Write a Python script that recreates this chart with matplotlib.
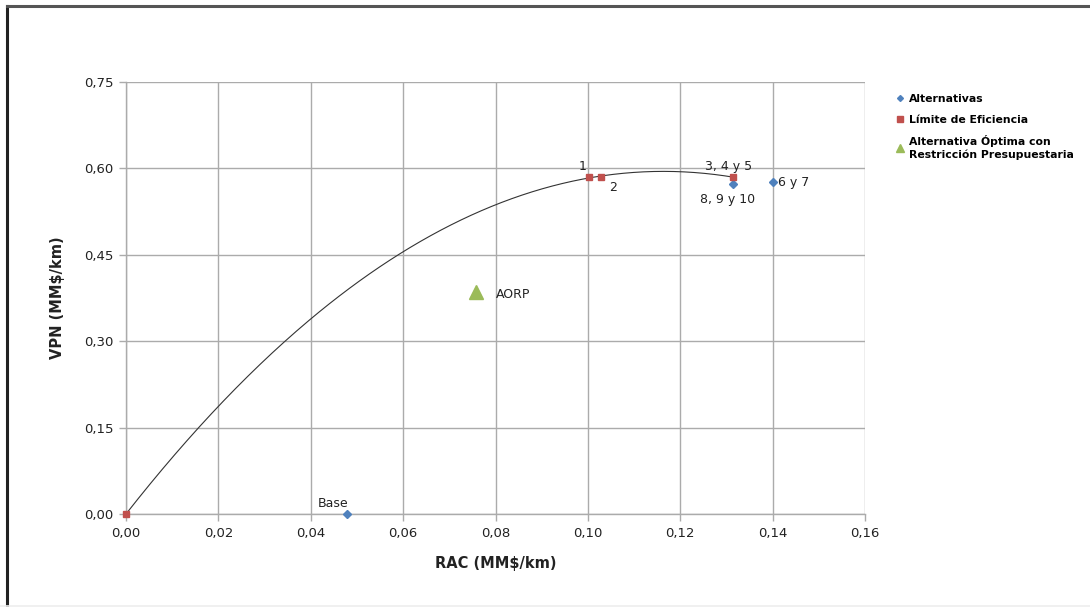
import numpy as np
import matplotlib
matplotlib.use("Agg")
import matplotlib.pyplot as plt
from matplotlib.lines import Line2D

# Alternatives (RAC, VPN) in MM$/km
alt_rac = [0.0478, 0.1314, 0.1400]
alt_vpn = [0.000, 0.573, 0.576]
alt_labels = ["Base", "8, 9 y 10", "6 y 7"]

# Efficiency frontier
lim_rac = [0.0, 0.1002, 0.1028, 0.1314]
lim_vpn = [0.0, 0.585, 0.585, 0.585]
lim_labels = ["", "1", "2", "3, 4 y 5"]

# Optimal alternative under budget restriction
aorp_rac = [0.0758]
aorp_vpn = [0.385]

x_ticks = [0.00, 0.02, 0.04, 0.06, 0.08, 0.10, 0.12, 0.14, 0.16]
y_ticks = [0.00, 0.15, 0.30, 0.45, 0.60, 0.75]

BLUE = "#4F81BD"
RED = "#C0504D"
GREEN = "#9BBB59"
GRID = "#ABABAB"

plt.rcParams["font.family"] = ["DejaVu Sans"]

fig = plt.figure(figsize=(10.9, 6.07), dpi=100)
ax = fig.add_axes([126 / 1090, 1 - 514 / 607, 739 / 1090, 432 / 607])

# frame around the chart (top and left edges)
fig.add_artist(Line2D([6.5 / 1090, 6.5 / 1090], [0, 1 - 5.5 / 607],
                      transform=fig.transFigure, color="#222222", lw=2.2))
fig.add_artist(Line2D([6.5 / 1090, 1], [1 - 5.5 / 607, 1 - 5.5 / 607],
                      transform=fig.transFigure, color="#555555", lw=2.2))
fig.add_artist(Line2D([0, 1], [0.6 / 607, 0.6 / 607],
                      transform=fig.transFigure, color="#EEEEEE", lw=1.2))

# quadratic trendline over the frontier
coef = np.polyfit(lim_rac, lim_vpn, 2)
xs = np.linspace(min(lim_rac), max(lim_rac), 300)
ax.plot(xs, np.polyval(coef, xs), color="#333333", lw=0.8, zorder=2)

ax.plot(alt_rac, alt_vpn, ls="none", marker="D", ms=3.6, color=BLUE,
        zorder=4, clip_on=False)
ax.plot(lim_rac, lim_vpn, ls="none", marker="s", ms=5, color=RED,
        zorder=4, clip_on=False)
ax.plot(aorp_rac, aorp_vpn, ls="none", marker="^", ms=10, color=GREEN,
        zorder=4, clip_on=False)

fs = 9
ax.annotate(alt_labels[0], (alt_rac[0], alt_vpn[0]), xytext=(-21, 5),
            textcoords="offset points", fontsize=fs, color="#222222")
ax.annotate(alt_labels[1], (alt_rac[1], alt_vpn[1]), xytext=(-24, -14),
            textcoords="offset points", fontsize=fs, color="#222222")
ax.annotate(alt_labels[2], (alt_rac[2], alt_vpn[2]), xytext=(4, -3),
            textcoords="offset points", fontsize=fs, color="#222222")
ax.annotate(lim_labels[1], (lim_rac[1], lim_vpn[1]), xytext=(-7, 5),
            textcoords="offset points", fontsize=fs, color="#222222")
ax.annotate(lim_labels[2], (lim_rac[2], lim_vpn[2]), xytext=(6, -10),
            textcoords="offset points", fontsize=fs, color="#222222")
ax.annotate(lim_labels[3], (lim_rac[3], lim_vpn[3]), xytext=(-20, 5),
            textcoords="offset points", fontsize=fs, color="#222222")
ax.annotate("AORP", (aorp_rac[0], aorp_vpn[0]), xytext=(14, -4),
            textcoords="offset points", fontsize=fs, color="#222222")

ax.set_xlim(0, 0.16)
ax.set_ylim(0, 0.75)
ax.set_xticks(x_ticks)
ax.set_yticks(y_ticks)
ax.set_xticklabels([f"{v:.2f}".replace(".", ",") for v in x_ticks], fontsize=9.5, color="#222222")
ax.set_yticklabels([f"{v:.2f}".replace(".", ",") for v in y_ticks], fontsize=9.5, color="#222222")
ax.grid(True, color=GRID, lw=1.0)
ax.set_axisbelow(True)
for side in ["top", "right"]:
    ax.spines[side].set_visible(False)
for side in ["left", "bottom"]:
    ax.spines[side].set_color(GRID)
    ax.spines[side].set_linewidth(1.0)
ax.tick_params(axis="both", color=GRID, length=5, width=1.0, pad=4)

ax.set_xlabel("RAC (MM$/km)", fontsize=10.5, fontweight="bold", labelpad=12, color="#222222")
ax.set_ylabel("VPN (MM$/km)", fontsize=10.5, fontweight="bold", labelpad=14, color="#222222")

handles = [
    Line2D([], [], ls="none", marker="D", ms=3, color=BLUE),
    Line2D([], [], ls="none", marker="s", ms=4, color=RED),
    Line2D([], [], ls="none", marker="^", ms=5.5, color=GREEN),
]
labels = ["Alternativas", "Límite de Eficiencia",
          "Alternativa Óptima con\nRestricción Presupuestaria"]
fig.legend(handles, labels, loc="upper left", bbox_to_anchor=(887 / 1090, 1 - 84 / 607),
           frameon=False, handlelength=0.6, handletextpad=0.5,
           labelspacing=1.0, prop={"weight": "semibold", "size": 7.8})

fig.savefig("out.png", dpi=100, facecolor="white")
